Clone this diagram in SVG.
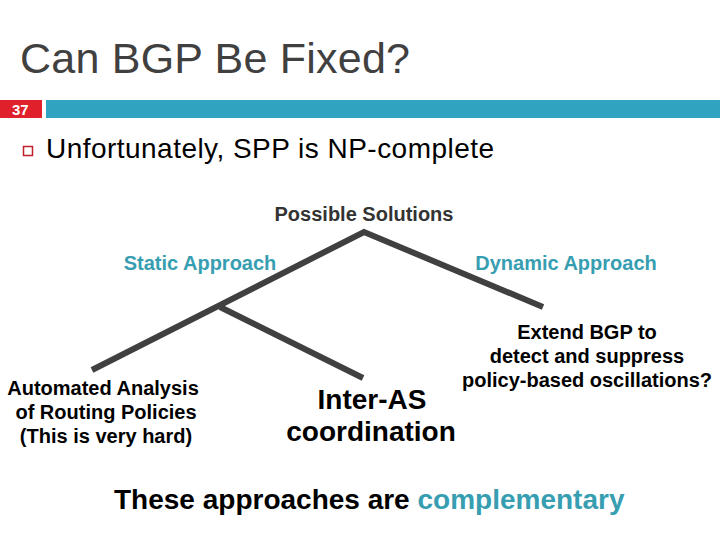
<svg xmlns="http://www.w3.org/2000/svg" width="720" height="540" viewBox="0 0 720 540">
<style>
.t{font-family:"Liberation Sans",Arial,sans-serif}
.b{font-weight:bold}
.lbl{font-family:"Liberation Sans",Arial,sans-serif;font-weight:bold;font-size:20px;text-anchor:middle;fill:#000}
.teal{fill:#379eb2}
.ln{stroke:#404040;stroke-width:6;fill:none;stroke-linecap:butt}
</style>
<rect width="720" height="540" fill="#fff"/>
<g id="header">
<text class="t" x="20" y="73" font-size="43" fill="#404040" textLength="390">Can BGP Be Fixed?</text>
<rect x="0" y="100" width="42" height="18" fill="#e0202a"/>
<text class="t b" x="12" y="115" font-size="15" fill="#fff">37</text>
<rect x="46" y="100" width="674" height="18" fill="#2fa3bf"/>
<rect x="23.5" y="146.5" width="9" height="9" fill="none" stroke="#c0202a" stroke-width="1.5"/>
<text class="t" x="46" y="158" font-size="28" fill="#000" textLength="448">Unfortunately, SPP is NP-complete</text>
</g>
<g id="connectors">
<polyline class="ln" points="92,370 364,232 543,307"/>
<line class="ln" x1="220" y1="307" x2="363" y2="378"/>
</g>
<g id="root"><text class="lbl" x="364" y="221" style="fill:#333">Possible Solutions</text></g>
<g id="static"><text class="lbl teal" x="200" y="270">Static Approach</text></g>
<g id="dynamic"><text class="lbl teal" x="566" y="270">Dynamic Approach</text></g>
<g id="analysis">
<text class="lbl" x="103" y="395">Automated Analysis</text>
<text class="lbl" x="106" y="419">of Routing Policies</text>
<text class="lbl" x="106" y="443">(This is very hard)</text>
</g>
<g id="interas">
<text class="lbl" x="372" y="409" style="font-size:28px">Inter-AS</text>
<text class="lbl" x="371" y="441" style="font-size:28px">coordination</text>
</g>
<g id="extend">
<text class="lbl" x="587" y="339">Extend BGP to</text>
<text class="lbl" x="587" y="363">detect and suppress</text>
<text class="lbl" x="587" y="387">policy-based oscillations?</text>
</g>
<g id="footer">
<text class="t b" x="114" y="509" font-size="28" fill="#000">These approaches are <tspan class="teal">complementary</tspan></text>
</g>
</svg>
